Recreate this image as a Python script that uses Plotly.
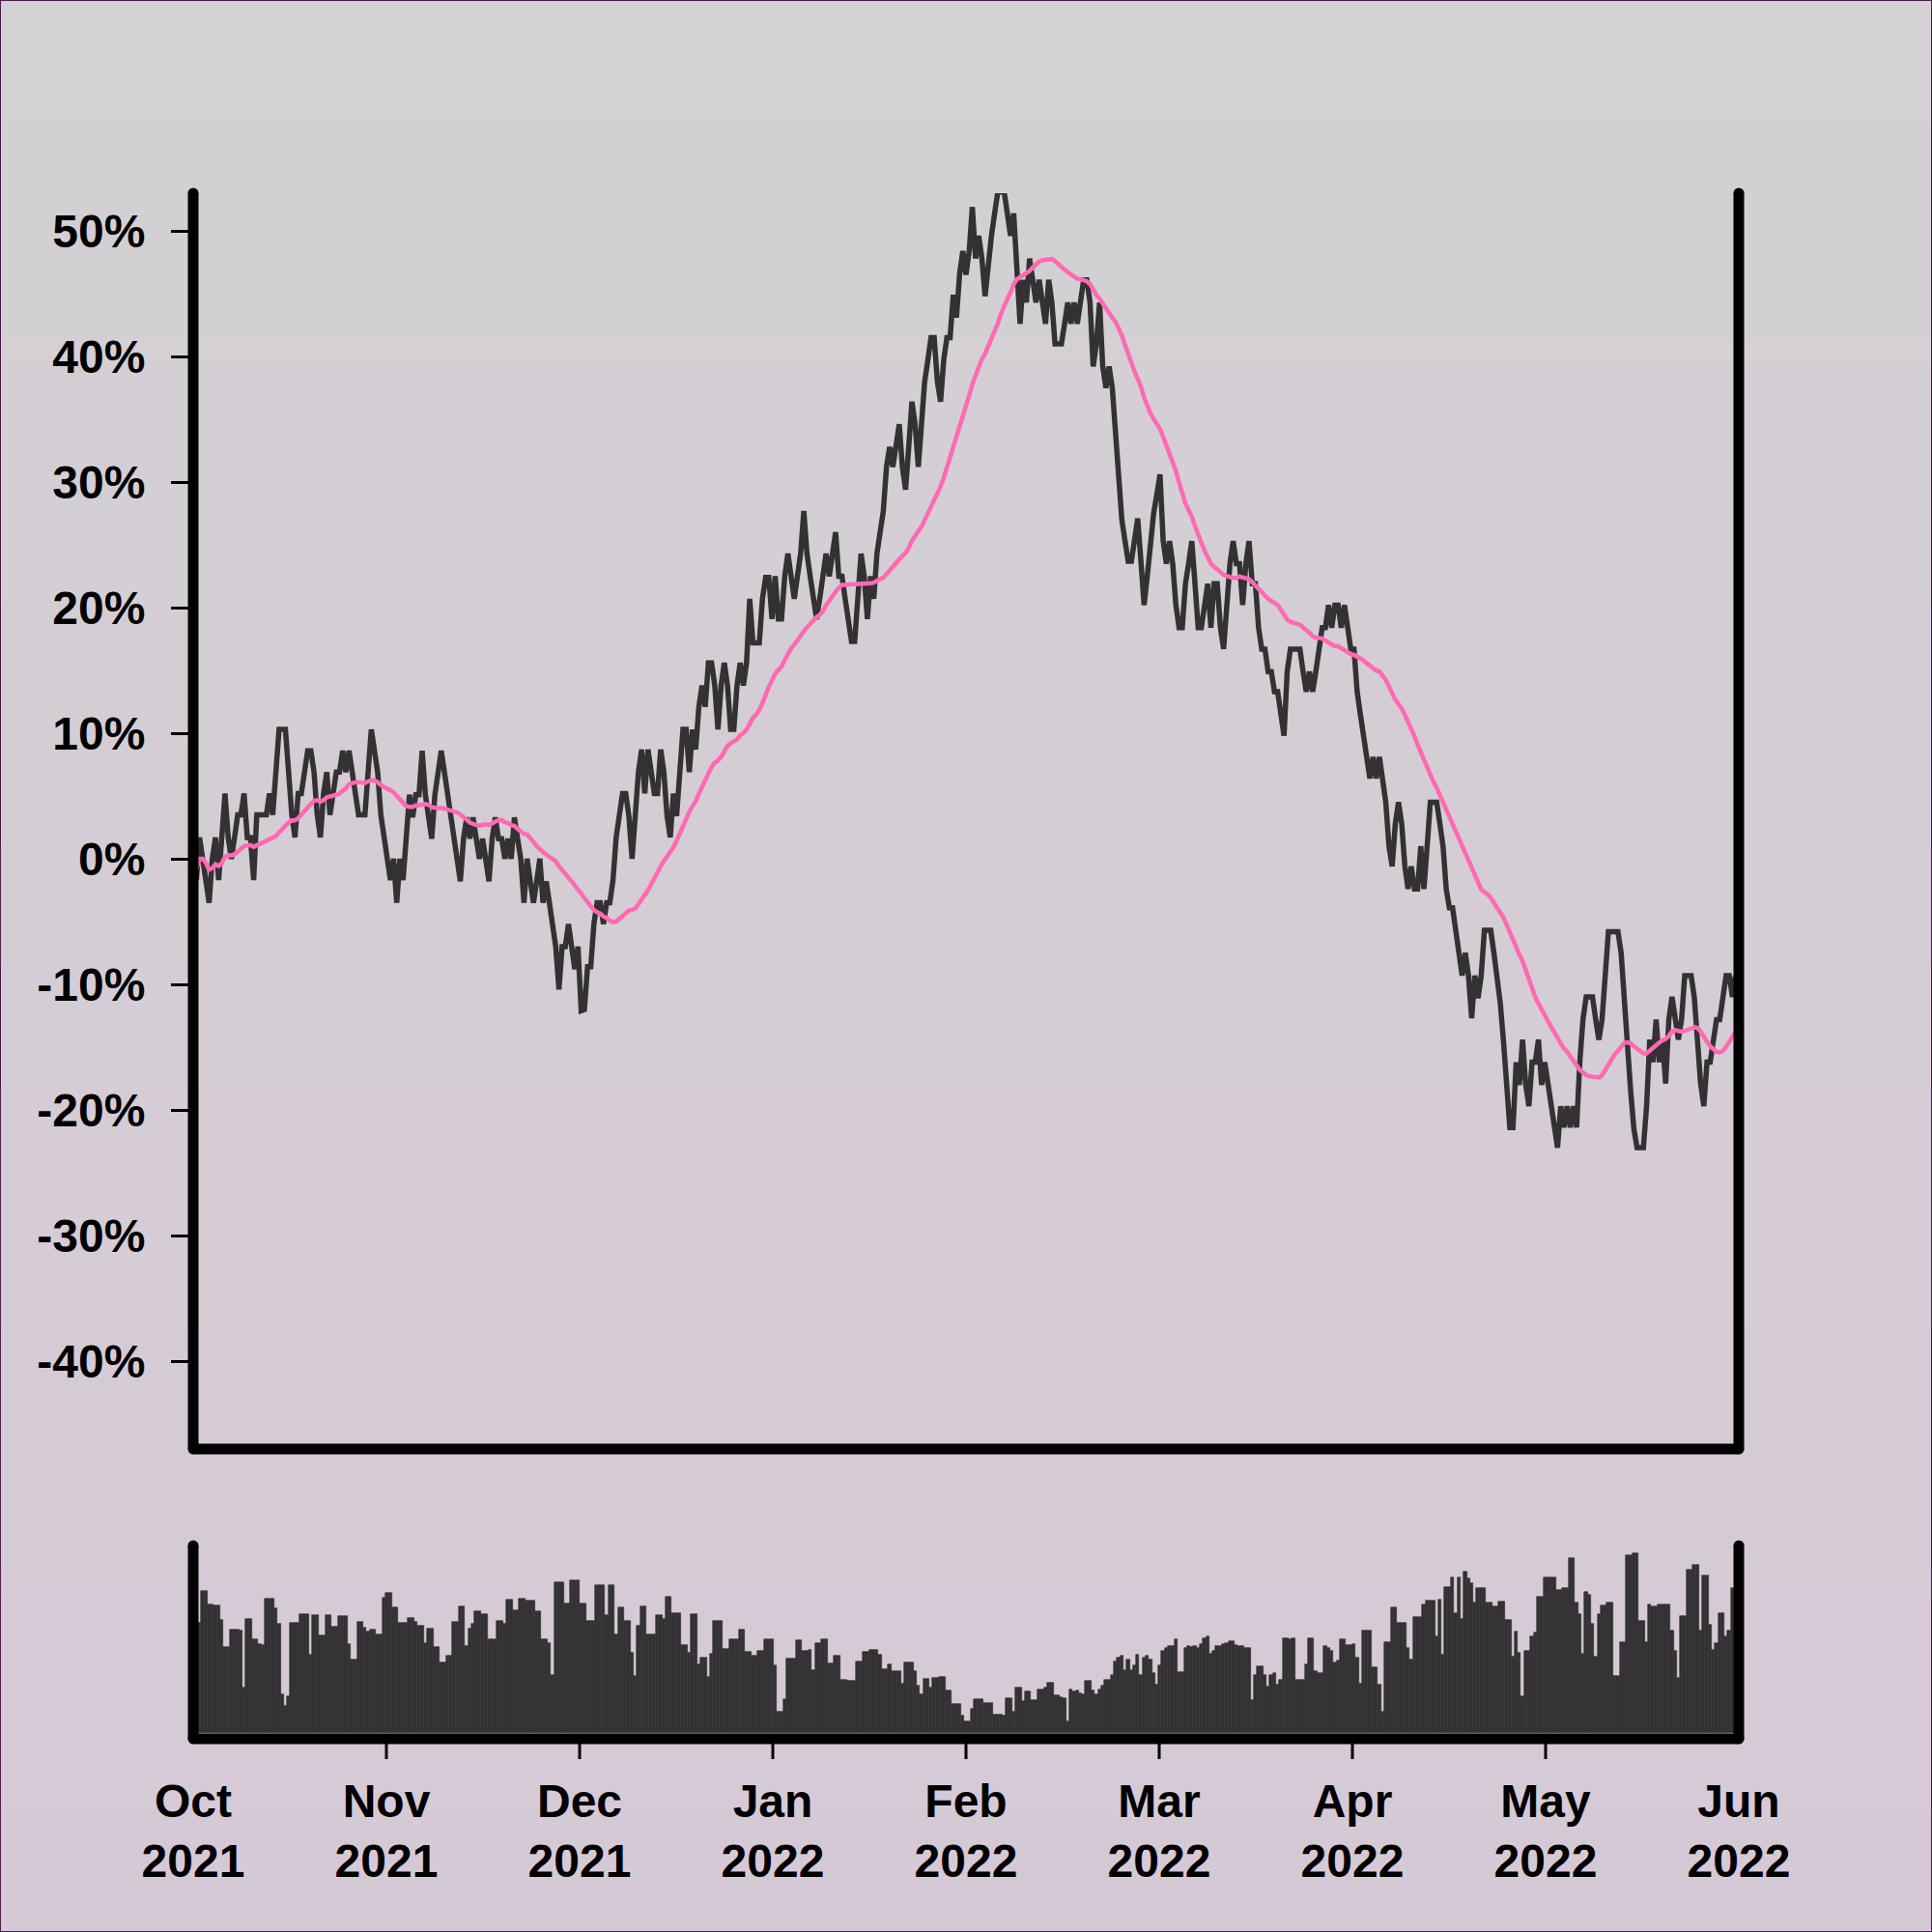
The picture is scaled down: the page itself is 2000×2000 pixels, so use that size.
import plotly.graph_objects as go
import pandas as pd

# ---------------- data ----------------
price_pct = [
    0, -1.7, 1.7, 0, -1.7, -3.5, 0, 1.7, -1.7, 1.7,
    5.2, 1.7, 0, 1.7, 3.5, 3.5, 5.2, 1.7, 1.7, -1.7,
    3.5, 3.5, 3.5, 3.5, 5.2, 3.5, 6.9, 10.3, 10.3, 10.3,
    6.9, 3.5, 1.7, 5.2, 5.2, 6.9, 8.6, 8.6, 6.9, 3.5,
    1.7, 5.2, 6.9, 3.5, 5.2, 6.9, 6.9, 8.6, 6.9, 8.6,
    6.9, 5.2, 3.5, 3.5, 3.5, 6.9, 10.3, 8.6, 6.9, 3.5,
    1.7, 0, -1.7, 0, -3.5, 0, -1.7, 1.7, 5.1, 3.3,
    5.1, 5.1, 8.6, 5.1, 3.3, 1.6, 5.1, 6.9, 8.6, 6.9,
    5.1, 3.3, 1.6, 0, -1.8, 1.6, 3.3, 1.6, 3.3, 1.6,
    0, 1.6, 0, -1.8, 1.6, 3.3, 1.6, 1.6, 0, 1.6,
    0, 3.3, 1.6, 0, -3.5, 0, -1.8, -3.5, -1.8, 0,
    -3.5, -1.8, -3.5, -5.2, -7.0, -10.4, -7.0, -7.0, -5.2, -7.0,
    -8.8, -7.0, -12.1, -12.0, -8.6, -8.6, -5.2, -3.5, -3.5, -5.2,
    -3.5, -3.5, -1.7, 1.7, 3.4, 5.2, 5.2, 3.4, 0, 3.4,
    6.9, 8.7, 5.2, 8.7, 6.9, 5.2, 5.2, 8.7, 6.9, 3.4,
    1.7, 5.2, 3.4, 6.9, 10.3, 10.3, 6.9, 10.3, 8.7, 12.1,
    13.8, 12.1, 15.6, 15.6, 13.8, 10.3, 13.8, 15.6, 13.8, 10.3,
    10.3, 13.8, 15.6, 13.8, 15.6, 20.7, 17.2, 17.2, 17.2, 20.7,
    22.4, 22.4, 19.1, 22.5, 19.1, 19.1, 22.5, 24.3, 22.5, 20.7,
    22.5, 24.3, 27.7, 24.3, 22.5, 20.7, 19.1, 20.7, 22.5, 24.3,
    22.5, 24.3, 26.0, 22.5, 22.5, 20.7, 19.1, 17.3, 17.3, 20.7,
    24.3, 22.5, 19.1, 22.5, 20.7, 24.3, 26.0, 27.7, 31.2, 32.8,
    31.2, 32.8, 34.6, 31.2, 29.4, 32.8, 36.4, 34.6, 31.2, 34.6,
    38.0, 39.7, 41.5, 41.5, 38.0, 36.4, 39.7, 41.5, 41.5, 44.9,
    43.1, 46.6, 48.4, 46.5, 48.4, 51.9, 47.8, 49.6, 47.8, 44.8,
    47.8, 49.6, 51.4, 53.1, 53.1, 53.1, 51.4, 49.6, 51.4, 46.1,
    42.6, 46.1, 44.3, 47.8, 46.1, 44.3, 46.1, 44.3, 42.6, 46.1,
    44.3, 41.0, 41.0, 41.0, 42.6, 44.3, 42.6, 44.3, 42.6, 44.3,
    46.1, 46.1, 44.3, 39.2, 41.0, 44.3, 39.2, 37.5, 39.2, 37.5,
    33.5, 30.0, 27.0, 25.3, 23.7, 23.7, 25.3, 27.1, 23.7, 20.2,
    22.5, 25.3, 27.5, 29.0, 30.6, 25.3, 23.5, 25.3, 23.5, 20.2,
    18.4, 18.4, 21.9, 23.5, 25.3, 21.9, 18.4, 18.4, 20.2, 21.9,
    18.4, 21.9, 21.9, 18.4, 16.7, 20.2, 23.5, 25.3, 23.5, 23.5,
    20.2, 23.5, 25.3, 21.9, 21.9, 18.4, 16.7, 16.7, 14.9, 14.9,
    13.3, 13.3, 11.5, 9.8, 14.9, 16.7, 16.7, 16.7, 16.7, 14.9,
    13.3, 14.9, 13.3, 14.9, 16.7, 18.4, 18.4, 20.2, 18.4, 20.2,
    20.2, 18.4, 20.2, 18.4, 16.7, 16.7, 13.3, 11.5, 9.8, 8.1,
    6.4, 8.1, 6.4, 8.1, 6.4, 4.5, 1.0, -0.6, 2.8, 4.5,
    2.8, -0.6, -2.4, -0.6, -2.4, -2.4, 1.0, -2.4, 1.0, 4.5,
    4.5, 4.5, 2.8, 1.0, -2.4, -3.9, -3.9, -5.7, -7.5, -9.3,
    -7.5, -9.3, -12.7, -9.3, -11.1, -9.3, -5.7, -5.7, -5.7, -7.5,
    -9.5, -11.5, -14.5, -18.0, -21.4, -21.4, -16.2, -18.0, -14.4, -18.0,
    -19.7, -16.2, -16.2, -14.4, -18.0, -16.2, -17.9, -19.7, -21.4, -23.0,
    -19.7, -21.4, -19.7, -21.4, -19.7, -21.4, -16.2, -12.8, -11.0, -11.0,
    -11.0, -12.8, -14.4, -12.8, -9.3, -5.8, -5.8, -5.8, -5.8, -7.5,
    -11.5, -15.0, -18.5, -21.5, -23.0, -23.0, -23.0, -19.7, -14.4, -16.2,
    -12.8, -16.2, -14.4, -17.9, -12.8, -11.0, -12.8, -14.4, -12.8, -9.3,
    -9.3, -9.3, -11.0, -14.4, -17.9, -19.7, -16.2, -16.2, -14.4, -12.8,
    -12.8, -11.0, -9.3, -9.3, -11.0, -9.3, -11.0,
]

volume = [
    114, 114, 114, 147, 147, 133, 133, 132, 132, 117,
    89, 89, 107, 107, 107, 106, 47, 118, 118, 97,
    97, 92, 91, 139, 139, 139, 129, 113, 40, 28,
    38, 114, 114, 114, 123, 123, 123, 81, 122, 122,
    101, 101, 122, 122, 110, 110, 121, 121, 121, 92,
    76, 76, 115, 115, 109, 105, 107, 107, 102, 102,
    140, 145, 145, 130, 130, 114, 114, 114, 119, 119,
    115, 111, 111, 93, 108, 108, 89, 89, 73, 73,
    80, 80, 115, 115, 131, 131, 90, 108, 113, 126,
    126, 123, 123, 97, 97, 97, 116, 116, 113, 138,
    138, 127, 127, 139, 139, 137, 137, 137, 126, 126,
    97, 97, 93, 60, 156, 156, 156, 134, 134, 158,
    158, 158, 134, 134, 116, 116, 116, 153, 153, 153,
    122, 153, 153, 102, 130, 130, 116, 116, 83, 59,
    111, 131, 131, 102, 102, 102, 122, 122, 118, 141,
    141, 124, 124, 124, 91, 91, 83, 123, 123, 71,
    78, 78, 58, 82, 116, 116, 116, 87, 87, 97,
    97, 97, 107, 107, 84, 84, 80, 80, 85, 85,
    97, 97, 97, 70, 22, 22, 35, 77, 77, 77,
    96, 96, 85, 85, 86, 65, 93, 93, 97, 97,
    72, 72, 80, 80, 55, 55, 54, 54, 54, 74,
    74, 84, 84, 86, 86, 86, 81, 66, 66, 71,
    64, 64, 64, 51, 73, 73, 73, 64, 49, 40,
    56, 56, 47, 57, 57, 58, 58, 44, 44, 30,
    30, 30, 18, 12, 12, 25, 35, 35, 35, 31,
    31, 31, 19, 19, 19, 18, 36, 36, 22, 47,
    47, 33, 43, 43, 34, 34, 45, 45, 47, 52,
    52, 39, 39, 37, 36, 12, 45, 43, 44, 41,
    40, 54, 54, 44, 40, 45, 49, 55, 55, 60,
    74, 78, 80, 65, 76, 65, 70, 81, 60, 78,
    80, 76, 62, 50, 70, 85, 88, 90, 90, 97,
    63, 63, 88, 90, 89, 90, 88, 92, 98, 100,
    82, 85, 90, 90, 92, 93, 95, 95, 91, 90,
    90, 88, 88, 34, 60, 69, 69, 60, 48, 60,
    62, 50, 55, 98, 98, 97, 98, 55, 55, 55,
    71, 98, 98, 64, 62, 62, 90, 88, 85, 73,
    75, 97, 97, 91, 91, 92, 78, 51, 106, 106,
    106, 68, 68, 50, 22, 94, 94, 130, 130, 114,
    114, 114, 88, 76, 120, 120, 120, 133, 137, 137,
    137, 100, 138, 81, 151, 151, 161, 124, 161, 118,
    167, 160, 155, 135, 150, 150, 150, 135, 135, 131,
    131, 136, 136, 117, 117, 79, 105, 83, 38, 85,
    85, 100, 104, 141, 141, 161, 161, 161, 161, 148,
    148, 150, 150, 181, 181, 135, 123, 82, 146, 143,
    113, 79, 123, 132, 132, 135, 135, 59, 59, 94,
    94, 184, 184, 186, 186, 116, 116, 94, 133, 131,
    131, 133, 133, 133, 133, 106, 85, 57, 121, 121,
    169, 169, 174, 174, 106, 163, 163, 112, 86, 93,
    124, 124, 100, 106, 150, 150, 150,
]

month_labels = ["Oct<br>2021", "Nov<br>2021", "Dec<br>2021", "Jan<br>2022",
                "Feb<br>2022", "Mar<br>2022", "Apr<br>2022", "May<br>2022",
                "Jun<br>2022"]
pct_ticks = [-40, -30, -20, -10, 0, 10, 20, 30, 40, 50]
pct_labels = ["-40%", "-30%", "-20%", "-10%", "0%", "10%", "20%", "30%", "40%", "50%"]
MA_WINDOW = 30

# ---------------- derived ----------------
n = len(price_pct)
x = list(range(n))
moving_avg = pd.Series(price_pct).rolling(MA_WINDOW, min_periods=1).mean().tolist()
month_pos = [k * (n - 1) / (len(month_labels) - 1) for k in range(len(month_labels))]

DARK = "#333133"
PINK = "#ff69b4"
FONT = "Liberation Sans, Arial, Helvetica, sans-serif"

fig = go.Figure()
fig.add_trace(go.Scatter(x=x, y=price_pct, mode="lines",
                         line=dict(color=DARK, width=5.5), xaxis="x", yaxis="y",
                         hoverinfo="skip", showlegend=False))
fig.add_trace(go.Scatter(x=x, y=moving_avg, mode="lines",
                         line=dict(color=PINK, width=4.5), xaxis="x", yaxis="y",
                         hoverinfo="skip", showlegend=False))
fig.add_trace(go.Bar(x=x, y=volume, xaxis="x2", yaxis="y2",
                     marker=dict(color=DARK, line=dict(color=DARK, width=0.6)),
                     hoverinfo="skip", showlegend=False))

# ---------------- background gradient + frame ----------------
shapes = []
top_rgb = (211, 209, 211)
bot_rgb = (214, 201, 214)
bands = 80
for k in range(bands):
    t = k / (bands - 1)
    c = tuple(round(top_rgb[j] + (bot_rgb[j] - top_rgb[j]) * t) for j in range(3))
    y_top_px = k * 2000 / bands
    y_bot_px = (k + 1) * 2000 / bands + 1
    shapes.append(dict(type="rect", xref="paper", yref="paper", layer="below",
                       x0=-0.13, x1=1.13,
                       y0=(1800 - y_bot_px) / 1600, y1=(1800 - y_top_px) / 1600,
                       line=dict(width=0), fillcolor="rgb(%d,%d,%d)" % c))

AX_W = 11
r = (AX_W / 2) / 1600.0


def frame(y_lo, y_hi):
    out = []
    for (x0, y0, x1, y1) in [(0, y_lo, 0, y_hi), (0, y_lo, 1, y_lo), (1, y_lo, 1, y_hi)]:
        out.append(dict(type="line", xref="paper", yref="paper", layer="above",
                        x0=x0, y0=y0, x1=x1, y1=y1,
                        line=dict(color="black", width=AX_W)))
    for (cx, cy) in [(0, y_lo), (0, y_hi), (1, y_lo), (1, y_hi)]:
        out.append(dict(type="circle", xref="paper", yref="paper", layer="above",
                        x0=cx - r, x1=cx + r, y0=cy - r, y1=cy + r,
                        fillcolor="black", line=dict(width=0)))
    return out


shapes += frame(0.1875, 1.0)
shapes += frame(0.0, 0.125)

# month ticks under the volume panel (interior months only, as in the reference)
for p in month_pos[1:-1]:
    shapes.append(dict(type="line", xref="x2", yref="paper", layer="above",
                       x0=p, x1=p, y0=0, y1=-21 / 1600,
                       line=dict(color="black", width=3)))

shapes.append(dict(type="rect", xref="paper", yref="paper", layer="above",
                   x0=-0.125, x1=1.125, y0=-0.125, y1=1.125,
                   line=dict(color="#4a1c4a", width=2), fillcolor="rgba(0,0,0,0)"))

tickfont = dict(family=FONT, size=48, color="black", weight="bold")

fig.update_layout(
    width=2000, height=2000,
    margin=dict(l=200, r=200, t=200, b=200, pad=0),
    paper_bgcolor="rgb(212,205,212)",
    plot_bgcolor="rgba(0,0,0,0)",
    bargap=0,
    showlegend=False,
    shapes=shapes,
    xaxis=dict(domain=[0, 1], anchor="y", range=[0, n - 1], showticklabels=False,
               ticks="", showgrid=False, zeroline=False, showline=False),
    yaxis=dict(domain=[0.1875, 1], anchor="x", range=[-47, 53],
               tickmode="array", tickvals=pct_ticks, ticktext=pct_labels,
               ticks="outside", ticklen=22, tickwidth=3, tickcolor="black",
               tickfont=tickfont, ticklabelstandoff=17,
               showgrid=False, zeroline=False, showline=False),
    xaxis2=dict(domain=[0, 1], anchor="y2", range=[0, n - 1],
                tickmode="array", tickvals=month_pos, ticktext=month_labels,
                ticks="", tickfont=tickfont, ticklabelstandoff=32,
                showgrid=False, zeroline=False, showline=False),
    yaxis2=dict(domain=[0, 0.125], anchor="x2", range=[-6, 194],
                showticklabels=False, ticks="", showgrid=False,
                zeroline=False, showline=False),
)

fig.write_html("out.html", config={"displayModeBar": False},
               post_script="document.body.style.margin='0';document.body.style.overflow='hidden';")
